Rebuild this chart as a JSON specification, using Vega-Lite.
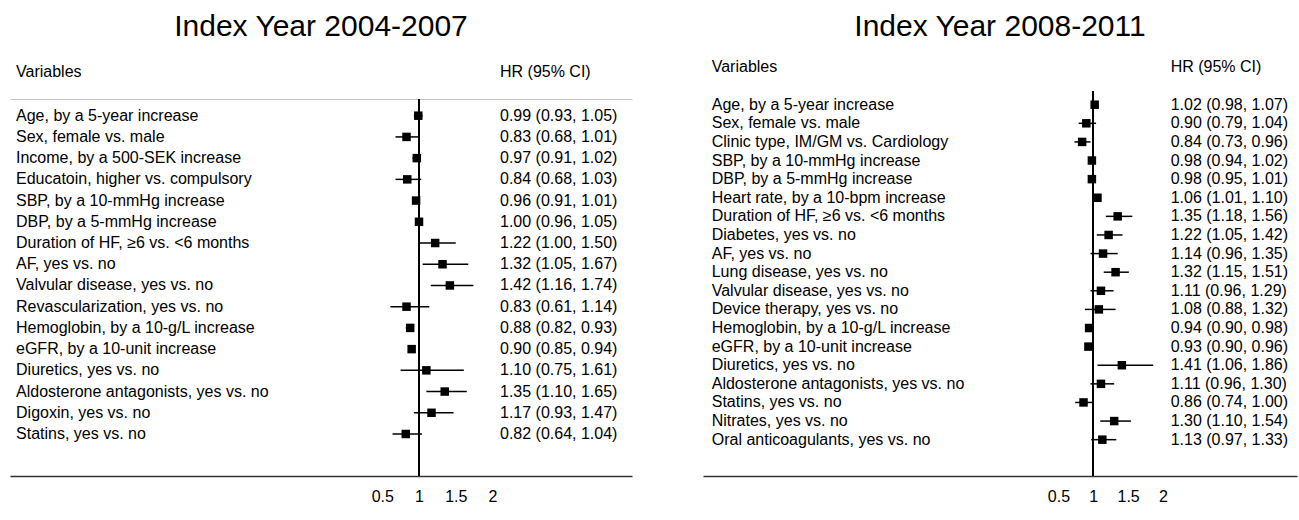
{
  "$schema": "https://vega.github.io/schema/vega-lite/v6.json",
  "padding": {"left": 10, "right": 2, "top": 12, "bottom": 0},
  "background": "white",
  "config": {
    "view": {"stroke": null},
    "font": "Liberation Sans",
    "text": {"font": "Liberation Sans", "fontSize": 16, "color": "black"},
    "title": {"font": "Liberation Sans", "fontSize": 30, "fontWeight": "normal", "color": "black", "anchor": "middle", "offset": 4}
  },
  "datasets": {
    "p1": [
      {"var": "Age, by a 5-year increase", "hr": 0.99, "lo": 0.93, "hi": 1.05, "txt": "0.99 (0.93, 1.05)"},
      {"var": "Sex, female vs. male", "hr": 0.83, "lo": 0.68, "hi": 1.01, "txt": "0.83 (0.68, 1.01)"},
      {"var": "Income, by a 500-SEK increase", "hr": 0.97, "lo": 0.91, "hi": 1.02, "txt": "0.97 (0.91, 1.02)"},
      {"var": "Educatoin, higher vs. compulsory", "hr": 0.84, "lo": 0.68, "hi": 1.03, "txt": "0.84 (0.68, 1.03)"},
      {"var": "SBP, by a 10-mmHg increase", "hr": 0.96, "lo": 0.91, "hi": 1.01, "txt": "0.96 (0.91, 1.01)"},
      {"var": "DBP, by a 5-mmHg increase", "hr": 1.00, "lo": 0.96, "hi": 1.05, "txt": "1.00 (0.96, 1.05)"},
      {"var": "Duration of HF, ≥6 vs. <6 months", "hr": 1.22, "lo": 1.00, "hi": 1.50, "txt": "1.22 (1.00, 1.50)"},
      {"var": "AF, yes vs. no", "hr": 1.32, "lo": 1.05, "hi": 1.67, "txt": "1.32 (1.05, 1.67)"},
      {"var": "Valvular disease, yes vs. no", "hr": 1.42, "lo": 1.16, "hi": 1.74, "txt": "1.42 (1.16, 1.74)"},
      {"var": "Revascularization, yes vs. no", "hr": 0.83, "lo": 0.61, "hi": 1.14, "txt": "0.83 (0.61, 1.14)"},
      {"var": "Hemoglobin, by a 10-g/L increase", "hr": 0.88, "lo": 0.82, "hi": 0.93, "txt": "0.88 (0.82, 0.93)"},
      {"var": "eGFR, by a 10-unit increase", "hr": 0.90, "lo": 0.85, "hi": 0.94, "txt": "0.90 (0.85, 0.94)"},
      {"var": "Diuretics, yes vs. no", "hr": 1.10, "lo": 0.75, "hi": 1.61, "txt": "1.10 (0.75, 1.61)"},
      {"var": "Aldosterone antagonists, yes vs. no", "hr": 1.35, "lo": 1.10, "hi": 1.65, "txt": "1.35 (1.10, 1.65)"},
      {"var": "Digoxin, yes vs. no", "hr": 1.17, "lo": 0.93, "hi": 1.47, "txt": "1.17 (0.93, 1.47)"},
      {"var": "Statins, yes vs. no", "hr": 0.82, "lo": 0.64, "hi": 1.04, "txt": "0.82 (0.64, 1.04)"}
    ],
    "p2": [
      {"var": "Age, by a 5-year increase", "hr": 1.02, "lo": 0.98, "hi": 1.07, "txt": "1.02 (0.98, 1.07)"},
      {"var": "Sex, female vs. male", "hr": 0.90, "lo": 0.79, "hi": 1.04, "txt": "0.90 (0.79, 1.04)"},
      {"var": "Clinic type, IM/GM vs. Cardiology", "hr": 0.84, "lo": 0.73, "hi": 0.96, "txt": "0.84 (0.73, 0.96)"},
      {"var": "SBP, by a 10-mmHg increase", "hr": 0.98, "lo": 0.94, "hi": 1.02, "txt": "0.98 (0.94, 1.02)"},
      {"var": "DBP, by a 5-mmHg increase", "hr": 0.98, "lo": 0.95, "hi": 1.01, "txt": "0.98 (0.95, 1.01)"},
      {"var": "Heart rate, by a 10-bpm increase", "hr": 1.06, "lo": 1.01, "hi": 1.10, "txt": "1.06 (1.01, 1.10)"},
      {"var": "Duration of HF, ≥6 vs. <6 months", "hr": 1.35, "lo": 1.18, "hi": 1.56, "txt": "1.35 (1.18, 1.56)"},
      {"var": "Diabetes, yes vs. no", "hr": 1.22, "lo": 1.05, "hi": 1.42, "txt": "1.22 (1.05, 1.42)"},
      {"var": "AF, yes vs. no", "hr": 1.14, "lo": 0.96, "hi": 1.35, "txt": "1.14 (0.96, 1.35)"},
      {"var": "Lung disease, yes vs. no", "hr": 1.32, "lo": 1.15, "hi": 1.51, "txt": "1.32 (1.15, 1.51)"},
      {"var": "Valvular disease, yes vs. no", "hr": 1.11, "lo": 0.96, "hi": 1.29, "txt": "1.11 (0.96, 1.29)"},
      {"var": "Device therapy, yes vs. no", "hr": 1.08, "lo": 0.88, "hi": 1.32, "txt": "1.08 (0.88, 1.32)"},
      {"var": "Hemoglobin, by a 10-g/L increase", "hr": 0.94, "lo": 0.90, "hi": 0.98, "txt": "0.94 (0.90, 0.98)"},
      {"var": "eGFR, by a 10-unit increase", "hr": 0.93, "lo": 0.90, "hi": 0.96, "txt": "0.93 (0.90, 0.96)"},
      {"var": "Diuretics, yes vs. no", "hr": 1.41, "lo": 1.06, "hi": 1.86, "txt": "1.41 (1.06, 1.86)"},
      {"var": "Aldosterone antagonists, yes vs. no", "hr": 1.11, "lo": 0.96, "hi": 1.30, "txt": "1.11 (0.96, 1.30)"},
      {"var": "Statins, yes vs. no", "hr": 0.86, "lo": 0.74, "hi": 1.00, "txt": "0.86 (0.74, 1.00)"},
      {"var": "Nitrates, yes vs. no", "hr": 1.30, "lo": 1.10, "hi": 1.54, "txt": "1.30 (1.10, 1.54)"},
      {"var": "Oral anticoagulants, yes vs. no", "hr": 1.13, "lo": 0.97, "hi": 1.33, "txt": "1.13 (0.97, 1.33)"}
    ],
    "h": [{"a": "Variables", "b": "HR (95% CI)"}]
  },
  "spacing": 71,
  "resolve": {"scale": {"x": "independent", "y": "independent"}},
  "hconcat": [
    {
      "title": {"text": "Index Year 2004-2007"},
      "spacing": 0,
      "resolve": {"scale": {"x": "independent", "y": "independent"}},
      "vconcat": [
        {
          "width": 622, "height": 52,
          "data": {"name": "h"},
          "layer": [
            {"mark": {"type": "text", "align": "left", "baseline": "middle"},
             "encoding": {"x": {"datum": -4.483, "type": "quantitative", "scale": {"domain": [-4.565, 3.898], "nice": false, "zero": false}, "axis": null},
                          "text": {"field": "a"}}},
            {"mark": {"type": "text", "align": "left", "baseline": "middle"},
             "encoding": {"x": {"datum": 2.102, "type": "quantitative", "scale": {"domain": [-4.565, 3.898], "nice": false, "zero": false}, "axis": null},
                          "text": {"field": "b"}}}
          ]
        },
        {
          "width": 622, "height": 377,
          "data": {"name": "p1"},
          "resolve": {"axis": {"x": "independent"}},
          "encoding": {
            "y": {"field": "var", "type": "nominal", "sort": null, "axis": null,
                  "scale": {"type": "point", "padding": 0.883, "align": 0.4456,
                            "domain": ["Age, by a 5-year increase", "Sex, female vs. male", "Income, by a 500-SEK increase", "Educatoin, higher vs. compulsory", "SBP, by a 10-mmHg increase", "DBP, by a 5-mmHg increase", "Duration of HF, ≥6 vs. <6 months", "AF, yes vs. no", "Valvular disease, yes vs. no", "Revascularization, yes vs. no", "Hemoglobin, by a 10-g/L increase", "eGFR, by a 10-unit increase", "Diuretics, yes vs. no", "Aldosterone antagonists, yes vs. no", "Digoxin, yes vs. no", "Statins, yes vs. no", " "]}}
          },
          "layer": [
            {"mark": {"type": "rule", "color": "black", "strokeWidth": 1.3},
             "encoding": {"y": null, "x": {"datum": 1, "type": "quantitative", "scale": {"domain": [-4.565, 3.898], "nice": false, "zero": false},
                                "axis": {"orient": "top", "labels": false, "ticks": false, "grid": false, "title": null, "domainColor": "#c4c4c4", "domainWidth": 1}}}},
            {"mark": {"type": "rule", "color": "black", "strokeWidth": 1.5},
             "encoding": {"x": {"field": "lo", "type": "quantitative", "scale": {"domain": [-4.565, 3.898], "nice": false, "zero": false},
                                "axis": {"orient": "bottom", "values": [0.5, 1, 1.5, 2], "labelExpr": "toString(datum.value)", "ticks": false, "grid": false, "title": null, "domainColor": "#333333", "domainWidth": 1.3, "labelFontSize": 16, "labelColor": "black", "labelPadding": 12, "labelFont": "Liberation Sans", "labelFlush": false, "labelOverlap": false}},
                          "x2": {"field": "hi"}}},
            {"mark": {"type": "square", "size": 72, "color": "black", "opacity": 1},
             "encoding": {"x": {"field": "hr", "type": "quantitative", "scale": {"domain": [-4.565, 3.898], "nice": false, "zero": false}, "axis": null}}},
            {"mark": {"type": "text", "align": "left", "baseline": "middle"},
             "encoding": {"x": {"datum": -4.483, "type": "quantitative", "scale": {"domain": [-4.565, 3.898], "nice": false, "zero": false}, "axis": null},
                          "text": {"field": "var"}}},
            {"mark": {"type": "text", "align": "left", "baseline": "middle"},
             "encoding": {"x": {"datum": 2.102, "type": "quantitative", "scale": {"domain": [-4.565, 3.898], "nice": false, "zero": false}, "axis": null},
                          "text": {"field": "txt"}}}
          ]
        }
      ]
    },
    {
      "title": {"text": "Index Year 2008-2011"},
      "spacing": 0,
      "resolve": {"scale": {"x": "independent", "y": "independent"}},
      "vconcat": [
        {
          "width": 594, "height": 44,
          "data": {"name": "h"},
          "layer": [
            {"mark": {"type": "text", "align": "left", "baseline": "middle", "dy": -1},
             "encoding": {"x": {"datum": -4.475, "type": "quantitative", "scale": {"domain": [-4.6, 3.923], "nice": false, "zero": false}, "axis": null},
                          "text": {"field": "a"}}},
            {"mark": {"type": "text", "align": "left", "baseline": "middle", "dy": -1},
             "encoding": {"x": {"datum": 2.11, "type": "quantitative", "scale": {"domain": [-4.6, 3.923], "nice": false, "zero": false}, "axis": null},
                          "text": {"field": "b"}}}
          ]
        },
        {
          "width": 594, "height": 385,
          "data": {"name": "p2"},
          "resolve": {"axis": {"x": "independent"}},
          "encoding": {
            "y": {"field": "var", "type": "nominal", "sort": null, "axis": null,
                  "scale": {"type": "point", "padding": 0.844, "align": 0.436,
                            "domain": ["Age, by a 5-year increase", "Sex, female vs. male", "Clinic type, IM/GM vs. Cardiology", "SBP, by a 10-mmHg increase", "DBP, by a 5-mmHg increase", "Heart rate, by a 10-bpm increase", "Duration of HF, ≥6 vs. <6 months", "Diabetes, yes vs. no", "AF, yes vs. no", "Lung disease, yes vs. no", "Valvular disease, yes vs. no", "Device therapy, yes vs. no", "Hemoglobin, by a 10-g/L increase", "eGFR, by a 10-unit increase", "Diuretics, yes vs. no", "Aldosterone antagonists, yes vs. no", "Statins, yes vs. no", "Nitrates, yes vs. no", "Oral anticoagulants, yes vs. no", " "]}}
          },
          "layer": [
            {"mark": {"type": "rule", "color": "black", "strokeWidth": 1.3},
             "encoding": {"y": null, "x": {"datum": 1, "type": "quantitative", "scale": {"domain": [-4.6, 3.923], "nice": false, "zero": false}, "axis": null}}},
            {"mark": {"type": "rule", "color": "black", "strokeWidth": 1.5},
             "encoding": {"x": {"field": "lo", "type": "quantitative", "scale": {"domain": [-4.6, 3.923], "nice": false, "zero": false},
                                "axis": {"orient": "bottom", "values": [0.5, 1, 1.5, 2], "labelExpr": "toString(datum.value)", "ticks": false, "grid": false, "title": null, "domainColor": "#333333", "domainWidth": 1.3, "labelFontSize": 16, "labelColor": "black", "labelPadding": 12, "labelFont": "Liberation Sans", "labelFlush": false, "labelOverlap": false}},
                          "x2": {"field": "hi"}}},
            {"mark": {"type": "square", "size": 72, "color": "black", "opacity": 1},
             "encoding": {"x": {"field": "hr", "type": "quantitative", "scale": {"domain": [-4.6, 3.923], "nice": false, "zero": false}, "axis": null}}},
            {"mark": {"type": "text", "align": "left", "baseline": "middle"},
             "encoding": {"x": {"datum": -4.475, "type": "quantitative", "scale": {"domain": [-4.6, 3.923], "nice": false, "zero": false}, "axis": null},
                          "text": {"field": "var"}}},
            {"mark": {"type": "text", "align": "left", "baseline": "middle"},
             "encoding": {"x": {"datum": 2.11, "type": "quantitative", "scale": {"domain": [-4.6, 3.923], "nice": false, "zero": false}, "axis": null},
                          "text": {"field": "txt"}}}
          ]
        }
      ]
    }
  ]
}
